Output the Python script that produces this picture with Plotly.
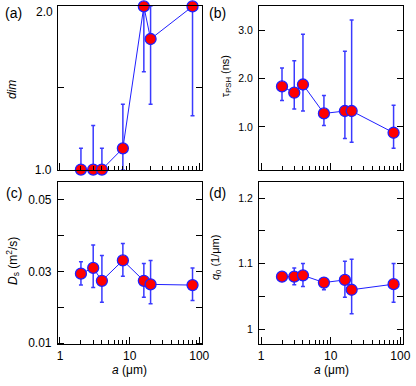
import plotly.graph_objects as go

# ---------------- data ----------------
a_um = [2, 3, 4, 8, 16, 20, 80]

dim_val = [1.0, 1.0, 1.0, 1.13, 2.0, 1.80, 2.0]
dim_hi = [1.13, 1.27, 1.13, 1.40, 2.40, 2.20, 2.67]
dim_lo = [0.87, 0.73, 0.87, 0.86, 1.60, 1.40, 1.33]

tau_val = [1.84, 1.71, 1.88, 1.28, 1.33, 1.33, 0.88]
tau_hi = [2.22, 2.37, 2.92, 1.65, 2.57, 3.22, 1.45]
tau_lo = [1.55, 1.37, 1.33, 1.03, 0.76, 0.68, 0.56]

ds_val = [0.0294, 0.0310, 0.0274, 0.0331, 0.0274, 0.0264, 0.0262]
ds_hi = [0.0327, 0.0374, 0.0345, 0.0378, 0.0322, 0.0331, 0.0310]
ds_lo = [0.0262, 0.0255, 0.0214, 0.0287, 0.0228, 0.0210, 0.0219]

q0_val = [1.080, 1.080, 1.082, 1.071, 1.075, 1.060, 1.0685]
q0_hi = [1.0865, 1.0934, 1.100, 1.0765, 1.1035, 1.1065, 1.100]
q0_lo = [1.074, 1.0675, 1.065, 1.060, 1.0485, 1.0235, 1.041]

x_tickvals = [1, 10, 100]
x_ticktext = ["1", "10", "100"]

# ---------------- layout helpers ----------------
W, H = 416, 386
FONT = "Arial, Liberation Sans, sans-serif"
BLUE = "#1f1fff"
ERRBLUE = "#3a3aff"
RED = "#ff0000"


def px_x(a, b):
    return [a / W, b / W]


def px_y(top, bottom):
    return [1 - bottom / H, 1 - top / H]


panels = [
    dict(key="a", vals=dim_val, hi=dim_hi, lo=dim_lo, yr=[0.998, 2.003],
         tv=[1.0, 1.5, 2.0], tt=["1.0", "", ""], tfs=12, shift=0,
         xd=px_x(58, 205), yd=px_y(6, 173), xlab=False),
    dict(key="b", vals=tau_val, hi=tau_hi, lo=tau_lo, yr=[0.11, 3.51],
         tv=[1.0, 2.0, 3.0], tt=["1.0", "2.0", "3.0"], tfs=10.5, shift=0,
         xd=px_x(263, 410), yd=px_y(6, 173), xlab=False),
    dict(key="c", vals=ds_val, hi=ds_hi, lo=ds_lo, yr=[0.0097, 0.0551],
         tv=[0.01, 0.02, 0.03, 0.04, 0.05], tt=["0.01", "", "0.03", "", "0.05"], tfs=12, shift=0,
         xd=px_x(58, 205), yd=px_y(185, 350.5), xlab=True),
    dict(key="d", vals=q0_val, hi=q0_hi, lo=q0_lo, yr=[0.977, 1.225],
         tv=[1.0, 1.05, 1.1, 1.15, 1.2], tt=["1", "", "1.1", "", "1.2"], tfs=10.5, shift=0,
         xd=px_x(263, 410), yd=px_y(185, 350.5), xlab=True),
]

fig = go.Figure()
layout = dict(
    width=W, height=H, margin=dict(l=0, r=0, t=0, b=0),
    paper_bgcolor="white", plot_bgcolor="white", showlegend=False,
    font=dict(family=FONT, size=12, color="black"),
)

for i, p in enumerate(panels):
    n = "" if i == 0 else str(i + 1)
    xa, ya = "x" + n, "y" + n
    ymin, ymax = p["yr"]
    plus = [min(h, ymax) - v for h, v in zip(p["hi"], p["vals"])]
    minus = [v - max(l, ymin) for l, v in zip(p["lo"], p["vals"])]
    fig.add_trace(go.Scatter(
        x=a_um, y=p["vals"], xaxis=xa, yaxis=ya, mode="lines",
        line=dict(color=BLUE, width=1), cliponaxis=True, hoverinfo="skip",
        error_y=dict(type="data", symmetric=False, array=plus, arrayminus=minus,
                     color=ERRBLUE, thickness=1.5, width=2),
    ))
    fig.add_trace(go.Scatter(
        x=a_um, y=p["vals"], xaxis=xa, yaxis=ya, mode="markers",
        marker=dict(color=RED, size=11, line=dict(color=BLUE, width=1.3)),
        cliponaxis=False,
    ))
    layout["xaxis" + n] = dict(
        domain=p["xd"], anchor=ya, type="log", range=[-0.03, 2.04],
        showgrid=False, zeroline=False, showline=True, linecolor="black", linewidth=1,
        mirror=True, ticks="inside", ticklen=7, tickcolor="black", tickwidth=1,
        tickvals=x_tickvals, ticktext=x_ticktext, showticklabels=p["xlab"],
        tickfont=dict(family=FONT, size=12, color="black"),
        minor=dict(ticks="inside", ticklen=4, tickcolor="black", tickwidth=1,
                   dtick="D1", showgrid=False),
    )
    layout["yaxis" + n] = dict(
        domain=p["yd"], anchor=xa, range=p["yr"],
        showgrid=False, zeroline=False, showline=True, linecolor="black", linewidth=1,
        mirror="ticks", ticks="inside", ticklen=6, tickcolor="black", tickwidth=1,
        tickvals=p["tv"], ticktext=p["tt"],
        tickfont=dict(family=FONT, size=p["tfs"], color="black"),
        ticklabelstandoff=3, ticklabelshift=p["shift"],
    )

fig.update_layout(**layout)

# "2.0" label of panel (a), sitting at the top tick (nudged inside the page)
fig.add_annotation(
    text="2.0", x=55 / W, xref="paper", y=2.0, yref="y", yshift=-6,
    xanchor="right", yanchor="middle", showarrow=False,
    font=dict(family=FONT, size=12, color="black"),
)

# axis titles & panel labels
ann = [
    dict(text="<i>dim</i>", x=12, y=91, angle=-90, size=12),
    dict(text="τ<sub>PSH</sub> (ns)", x=229, y=78, angle=-90, size=11),
    dict(text="<i>D</i><sub>s</sub> (m<sup>2</sup>/s)", x=12, y=266, angle=-90, size=12),
    dict(text="<i>q</i><sub>0</sub> (1/μm)", x=219, y=262, angle=-90, size=11),
    dict(text="<i>a</i> (μm)", x=131, y=377, angle=0, size=12),
    dict(text="<i>a</i> (μm)", x=337, y=377, angle=0, size=12),
    dict(text="(a)", x=13, y=13, angle=0, size=14),
    dict(text="(b)", x=221, y=13, angle=0, size=14),
    dict(text="(c)", x=13, y=197, angle=0, size=14),
    dict(text="(d)", x=221, y=197, angle=0, size=14),
]
for a in ann:
    fig.add_annotation(
        text=a["text"], x=a["x"] / W, y=1 - a["y"] / H, xref="paper", yref="paper",
        xanchor="center", yanchor="middle", showarrow=False, textangle=a["angle"],
        font=dict(family=FONT, size=a["size"], color="black"),
    )

fig.write_html("out.html", config={"displayModeBar": False},
               post_script="document.body.style.margin='0';")
